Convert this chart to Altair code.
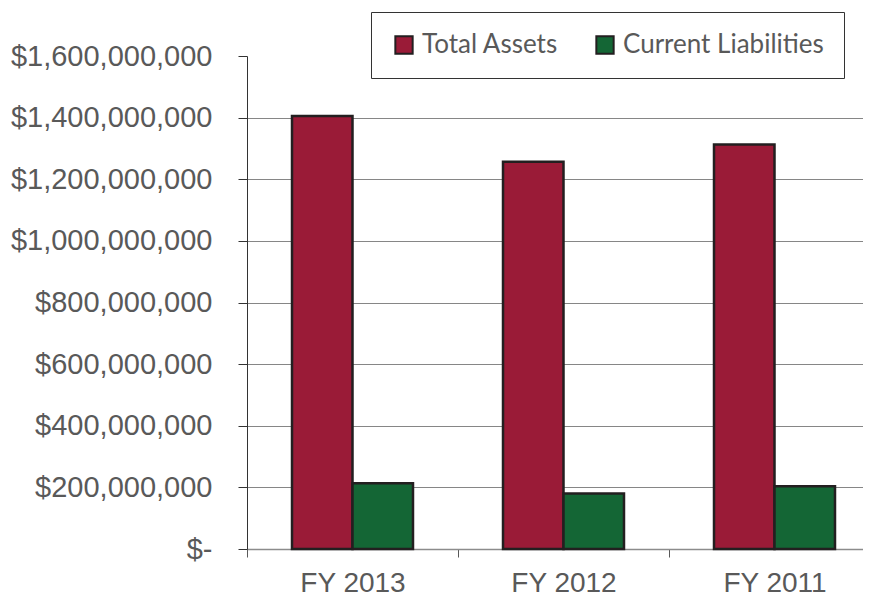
import altair as alt
import pandas as pd

years = ["FY 2013", "FY 2012", "FY 2011"]
series = ["Total Assets", "Current Liabilities"]
total_assets = [1405000000, 1257000000, 1313000000]
current_liabilities = [213000000, 180000000, 204000000]
y_ticks = [0, 200000000, 400000000, 600000000, 800000000,
           1000000000, 1200000000, 1400000000, 1600000000]
colors = ["#9A1B37", "#146635"]

rows = []
for i, yr in enumerate(years):
    rows.append({"year": yr, "series": series[0], "value": total_assets[i]})
    rows.append({"year": yr, "series": series[1], "value": current_liabilities[i]})
df = pd.DataFrame(rows)

chart = alt.Chart(df).mark_bar(stroke="#231f20", strokeWidth=2.5).encode(
    x=alt.X("year:N", sort=years,
            scale=alt.Scale(paddingInner=0, paddingOuter=0, align=0, range=[0, 633]),
            axis=alt.Axis(title=None, labelAngle=0, tickBand="extent", tickSize=8,
                          tickColor="#595959", domainColor="#8c8c8c", domainWidth=1.5,
                          labelPadding=12, labelFont="Liberation Sans", labelFontSize=28,
                          labelColor="#595959", labelLimit=0, grid=False)),
    xOffset=alt.XOffset("series:N", sort=series,
                        scale=alt.Scale(paddingInner=0, paddingOuter=0.744)),
    y=alt.Y("value:Q",
            scale=alt.Scale(domain=[0, 1600000000], nice=False),
            axis=alt.Axis(values=y_ticks, title=None,
                          labelExpr="datum.value == 0 ? '$-' : '$' + format(datum.value, ',')",
                          grid=True, gridColor="#868686", gridWidth=1,
                          gridOpacity={"condition": {"test": "datum.value >= 1600000000", "value": 0}, "value": 1},
                          domainColor="#333333", tickColor="#333333", tickSize=9,
                          labelPadding=26, labelFont="Liberation Sans", labelFontSize=29,
                          labelColor="#595959", labelLimit=0)),
    color=alt.Color("series:N", sort=series,
                    scale=alt.Scale(domain=series, range=colors),
                    legend=alt.Legend(title=None, orient="none", legendX=124, legendY=-44,
                                      direction="horizontal", symbolType="square",
                                      symbolSize=300, symbolStrokeColor="#231f20",
                                      symbolStrokeWidth=2, symbolOpacity=1,
                                      labelFont="Lato", labelFontSize=26,
                                      labelColor="#595959", labelOffset=5, labelLimit=0,
                                      columnPadding=33, padding=20,
                                      strokeColor="#333333", fillColor="white")),
).properties(
    width=616, height=493,
    autosize=alt.AutoSizeParams(type="none"),
    padding={"left": 239, "top": 48, "right": 0, "bottom": 48},
).configure_view(stroke=None)

chart.save("out.html", embed_options={"renderer": "svg", "actions": False})
